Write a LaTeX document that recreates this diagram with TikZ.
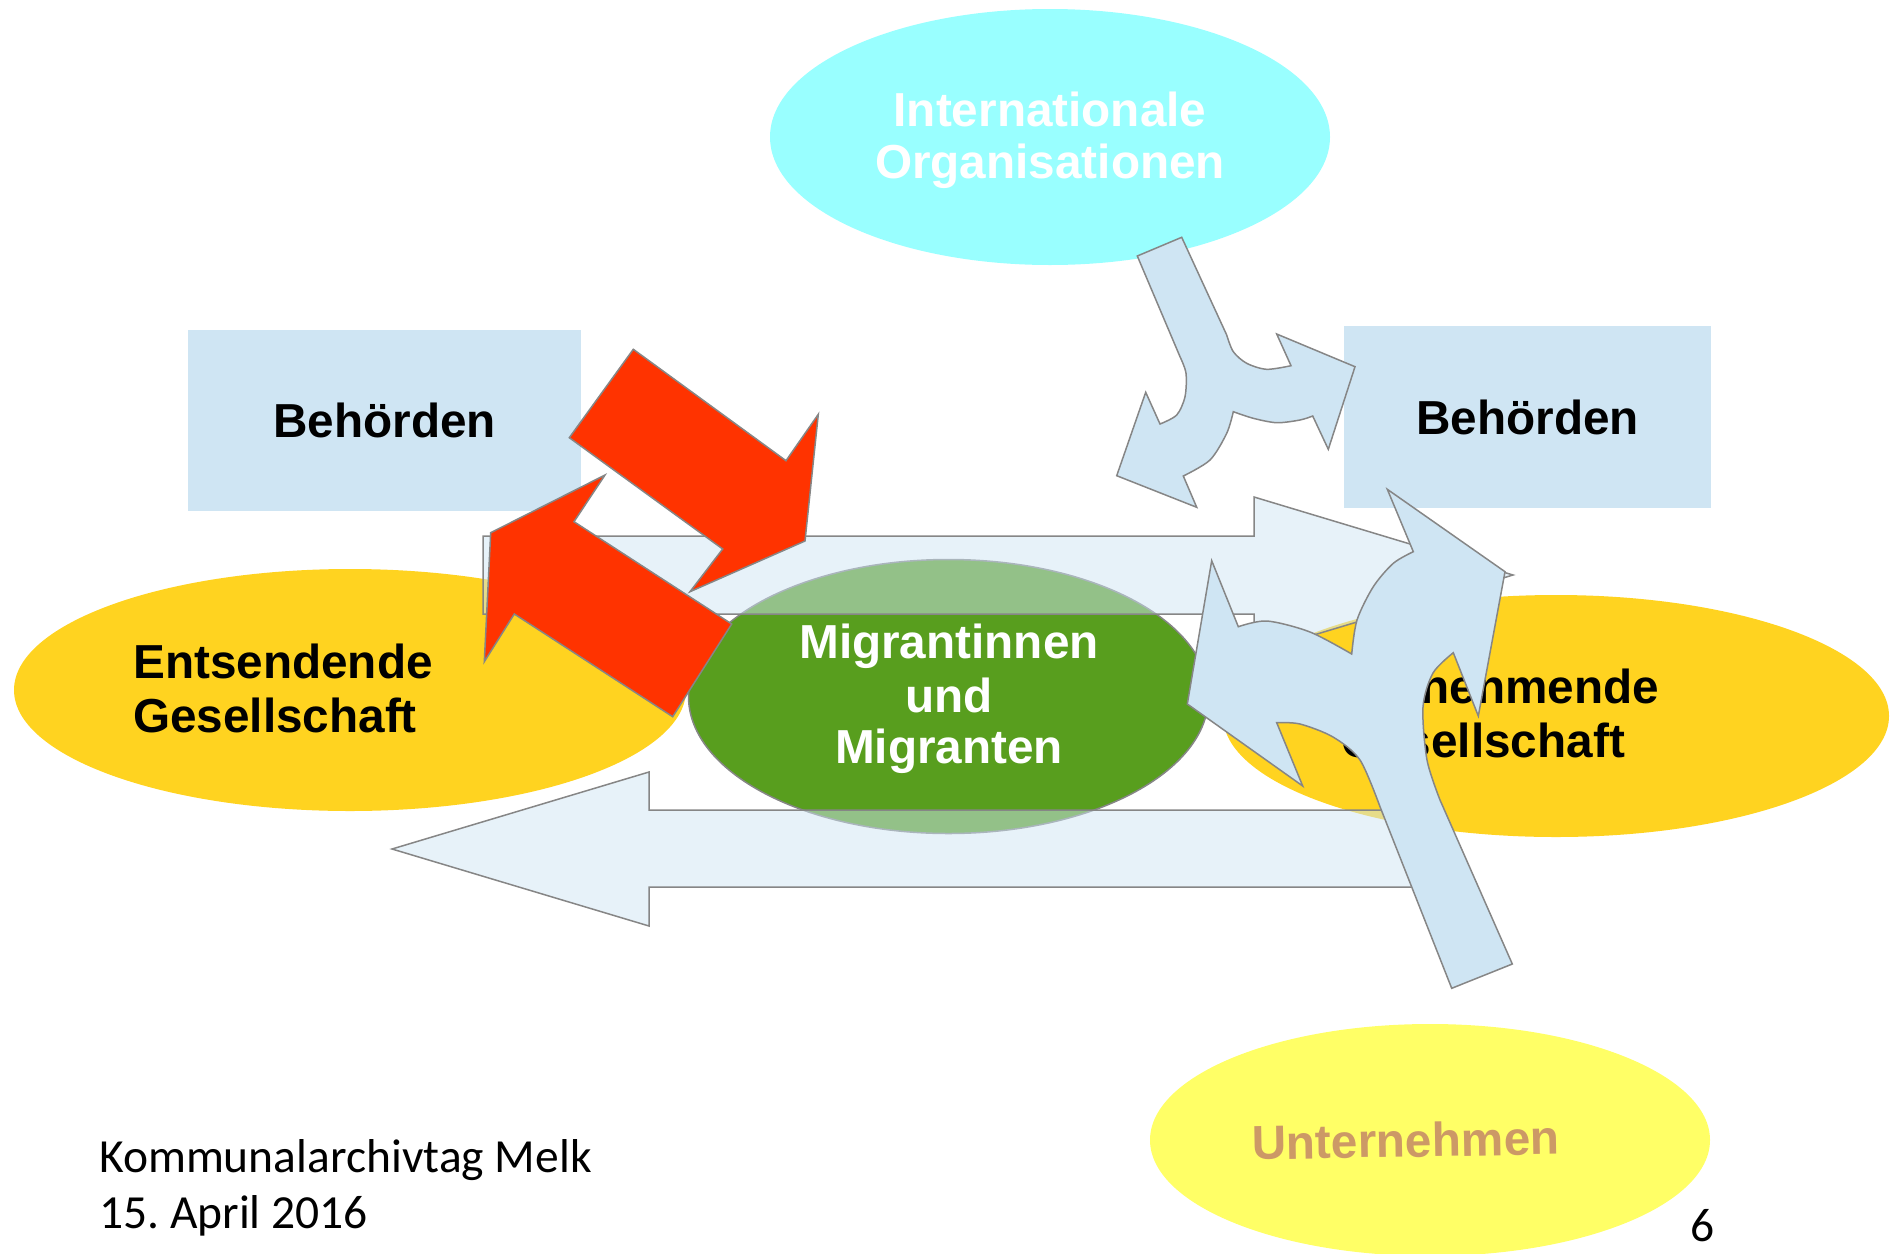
\documentclass[tikz,border=0pt]{standalone}
\usepackage{fontspec}
\setmainfont{Liberation Sans}
\newfontfamily\calibrifont{Carlito}
\usetikzlibrary{shapes.geometric}
\frenchspacing
\definecolor{paleblue}{HTML}{CFE5F3}
\definecolor{cyanell}{HTML}{99FFFF}
\definecolor{yel}{HTML}{FFD320}
\definecolor{grn}{HTML}{589E1E}
\definecolor{unty}{HTML}{FFFF66}
\definecolor{untt}{HTML}{CC9966}
\definecolor{redarr}{HTML}{FF3300}
\definecolor{edgegray}{HTML}{868686}
\begin{document}
\begin{tikzpicture}[x=1pt,y=-1pt,
  bigtxt/.style={inner sep=0, font=\bfseries\fontsize{47.7}{54}\selectfont, anchor=base},
  ell/.style={ellipse, inner sep=0},
  box/.style={rectangle, inner sep=0, fill=paleblue, font=\bfseries\fontsize{47.7}{54}\selectfont},
  flowarrow/.style={fill=paleblue, fill opacity=0.5, draw=edgegray, line width=1.5pt},
  redarrow/.style={fill=redarr, draw=edgegray, line width=1.5pt},
  bluearrow/.style={fill=paleblue, draw=edgegray, line width=1.5pt},
  foot/.style={inner sep=0, font=\calibrifont\fontsize{47.5}{56}\selectfont, anchor=base west}]
\useasboundingbox (0,0) rectangle (1895,1253);

% boxes
\node[box, minimum width=393pt, minimum height=181pt] (behL) at (384.5,420.5) {Behörden};
\node[box, minimum width=367pt, minimum height=182pt] (behR) at (1527.5,417) {Behörden};

% ellipses
\node[ell, fill=cyanell, minimum width=560pt, minimum height=256pt] (intl) at (1050,137) {};
\node[ell, fill=yel, minimum width=672pt, minimum height=242pt] (sendL) at (350,690) {};
\node[ell, fill=yel, minimum width=666pt, minimum height=242pt] (recvR) at (1556,716) {};
\node[ell, fill=unty, minimum width=560pt, minimum height=232pt] (firm) at (1430,1140) {};
\node[ell, fill=grn, draw=edgegray, line width=1.5pt, minimum width=520pt, minimum height=274pt] (migr) at (948.5,696.5) {};

% texts
\node[bigtxt, text=white] (intlA) at (1050,126) {Internationale};
\node[bigtxt, text=white] (intlB) at (1050,178) {Organisationen};
\node[bigtxt, anchor=base west] (sendA) at (133,678) {Entsendende};
\node[bigtxt, anchor=base west] (sendB) at (133,732) {Gesellschaft};
\node[bigtxt, anchor=base west] (recvA) at (1341,703) {Aufnehmende};
\node[bigtxt, anchor=base west] (recvB) at (1341,757) {Gesellschaft};
\node[bigtxt, text=white] (migA) at (949,658) {Migrantinnen};
\node[bigtxt, text=white] (migB) at (949,712) {und};
\node[bigtxt, text=white] (migC) at (949,763) {Migranten};
\node[bigtxt, text=untt, rotate=1] (firmT) at (1406,1157) {Unternehmen};

% semi-transparent flow arrows
\draw[flowarrow] (483,536) -- (1254,536) -- (1254,497) -- (1513,575) -- (1254,653) -- (1254,614) -- (483,614) -- cycle;
\draw[flowarrow] (1430,810) -- (649,810) -- (649,772) -- (392,849) -- (649,926) -- (649,887) -- (1430,887) -- cycle;

% red arrows
\draw[redarrow] (569.3,437.7) -- (633.3,349.3) -- (786,460.7) -- (818.3,414.3) -- (805,541) -- (690,591.7) -- (722.7,549) -- cycle;
\draw[redarrow] (731.7,624) -- (574,521.7) -- (605,475) -- (490.7,532.7) -- (484.3,661.7) -- (514.3,614) -- (672.7,716.7) -- cycle;

% Y-shaped arrow from international organisations
\draw[bluearrow] (1137.3,256) -- (1181.7,237.3) -- (1226.7,335)
  -- plot[smooth] coordinates {(1226.7,335) (1233.3,351.7) (1246.7,363.3) (1266.7,369.3) (1291,365.7)}
  -- (1276.7,334) -- (1355,366.7) -- (1328.3,449.3) -- (1312.7,416)
  -- plot[smooth] coordinates {(1312.7,416) (1300,420) (1276.7,422.7) (1253.3,418.3) (1233.3,411.7)}
  -- plot[smooth] coordinates {(1233.3,411.7) (1226.7,433.3) (1210,460) (1183.3,476)}
  -- (1196.7,507.3) -- (1116.7,475.7) -- (1145.7,392.3) -- (1160,424)
  -- plot[smooth] coordinates {(1160,424) (1176.7,415) (1185,396.7) (1186,373.3) (1180,356.7)}
  -- cycle;

% big arrow from enterprises
\draw[bluearrow] (1451.7,988.3) -- (1380,806.7)
  -- plot[smooth] coordinates {(1380,806.7) (1360,760) (1333,737) (1300,724) (1276.7,722.7)}
  -- (1302.7,786) -- (1187.3,704) -- (1211.7,560.7) -- (1238.3,626.7)
  -- plot[smooth] coordinates {(1238.3,626.7) (1267,621) (1310,632) (1351.7,654)}
  -- plot[smooth] coordinates {(1351.7,654) (1357,620) (1373.3,586.7) (1393.3,563.3) (1413.3,551.7)}
  -- (1387.3,489.3) -- (1505,571.7) -- (1478.3,716) -- (1453.3,652.7)
  -- plot[smooth] coordinates {(1453.3,652.7) (1433,673) (1423,707) (1427,760) (1440,800)}
  -- (1512.3,964) -- cycle;

% footer
\node[foot] (footA) at (99,1172) {Kommunalarchivtag Melk};
\node[foot] (footB) at (99,1228) {15. April 2016};
\node[foot] (pagenum) at (1690,1241) {6};
\end{tikzpicture}
\end{document}
